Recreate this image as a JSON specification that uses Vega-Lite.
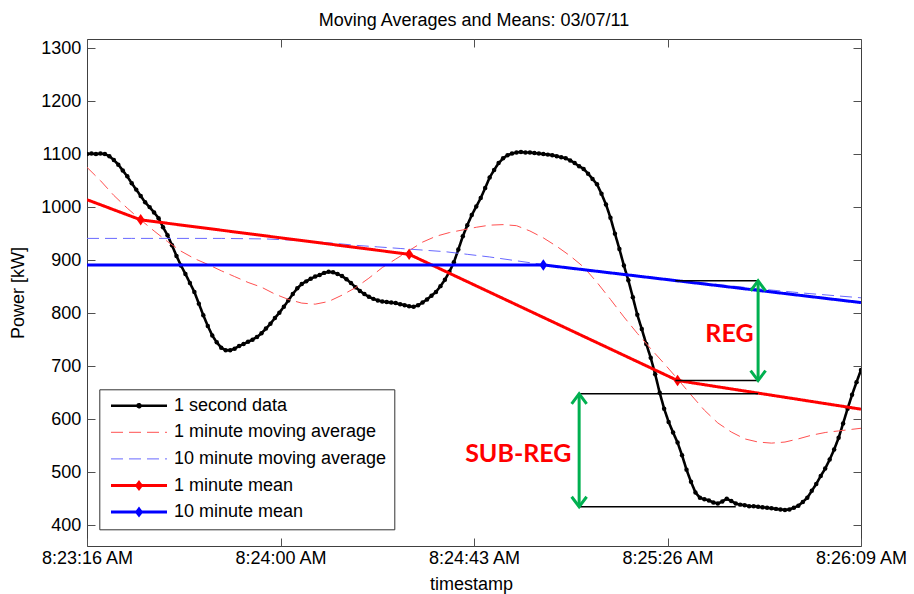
{
  "$schema": "https://vega.github.io/schema/vega-lite/v6.json",
  "width": 774,
  "height": 507,
  "autosize": {"type": "none"},
  "padding": {"left": 87, "top": 39, "right": 53, "bottom": 48},
  "background": "#ffffff",
  "title": {
    "text": "Moving Averages and Means: 03/07/11",
    "font": "Liberation Sans",
    "fontSize": 18,
    "fontWeight": "normal",
    "color": "#000000",
    "anchor": "middle",
    "frame": "group",
    "baseline": "alphabetic",
    "offset": -5
  },
  "datasets": {
    "power": [
      {"series": "1 second data", "sec": 0, "kW": 1100},
      {"series": "1 second data", "sec": 1, "kW": 1101},
      {"series": "1 second data", "sec": 2, "kW": 1100},
      {"series": "1 second data", "sec": 3, "kW": 1101},
      {"series": "1 second data", "sec": 4, "kW": 1100},
      {"series": "1 second data", "sec": 5, "kW": 1096},
      {"series": "1 second data", "sec": 6, "kW": 1089},
      {"series": "1 second data", "sec": 7, "kW": 1080},
      {"series": "1 second data", "sec": 8, "kW": 1069},
      {"series": "1 second data", "sec": 9, "kW": 1058},
      {"series": "1 second data", "sec": 10, "kW": 1045},
      {"series": "1 second data", "sec": 11, "kW": 1033},
      {"series": "1 second data", "sec": 12, "kW": 1021},
      {"series": "1 second data", "sec": 13, "kW": 1009},
      {"series": "1 second data", "sec": 14, "kW": 1000},
      {"series": "1 second data", "sec": 15, "kW": 990},
      {"series": "1 second data", "sec": 16, "kW": 979},
      {"series": "1 second data", "sec": 17, "kW": 962},
      {"series": "1 second data", "sec": 18, "kW": 947},
      {"series": "1 second data", "sec": 19, "kW": 928},
      {"series": "1 second data", "sec": 20, "kW": 908},
      {"series": "1 second data", "sec": 21, "kW": 890},
      {"series": "1 second data", "sec": 22, "kW": 874},
      {"series": "1 second data", "sec": 23, "kW": 857},
      {"series": "1 second data", "sec": 24, "kW": 840},
      {"series": "1 second data", "sec": 25, "kW": 818},
      {"series": "1 second data", "sec": 26, "kW": 796},
      {"series": "1 second data", "sec": 27, "kW": 776},
      {"series": "1 second data", "sec": 28, "kW": 758},
      {"series": "1 second data", "sec": 29, "kW": 745},
      {"series": "1 second data", "sec": 30, "kW": 735},
      {"series": "1 second data", "sec": 31, "kW": 730},
      {"series": "1 second data", "sec": 32, "kW": 730},
      {"series": "1 second data", "sec": 33, "kW": 733},
      {"series": "1 second data", "sec": 34, "kW": 738},
      {"series": "1 second data", "sec": 35, "kW": 742},
      {"series": "1 second data", "sec": 36, "kW": 746},
      {"series": "1 second data", "sec": 37, "kW": 750},
      {"series": "1 second data", "sec": 38, "kW": 755},
      {"series": "1 second data", "sec": 39, "kW": 762},
      {"series": "1 second data", "sec": 40, "kW": 771},
      {"series": "1 second data", "sec": 41, "kW": 780},
      {"series": "1 second data", "sec": 42, "kW": 791},
      {"series": "1 second data", "sec": 43, "kW": 801},
      {"series": "1 second data", "sec": 44, "kW": 812},
      {"series": "1 second data", "sec": 45, "kW": 824},
      {"series": "1 second data", "sec": 46, "kW": 836},
      {"series": "1 second data", "sec": 47, "kW": 847},
      {"series": "1 second data", "sec": 48, "kW": 855},
      {"series": "1 second data", "sec": 49, "kW": 860},
      {"series": "1 second data", "sec": 50, "kW": 865},
      {"series": "1 second data", "sec": 51, "kW": 869},
      {"series": "1 second data", "sec": 52, "kW": 872},
      {"series": "1 second data", "sec": 53, "kW": 876},
      {"series": "1 second data", "sec": 54, "kW": 878},
      {"series": "1 second data", "sec": 55, "kW": 877},
      {"series": "1 second data", "sec": 56, "kW": 874},
      {"series": "1 second data", "sec": 57, "kW": 870},
      {"series": "1 second data", "sec": 58, "kW": 864},
      {"series": "1 second data", "sec": 59, "kW": 857},
      {"series": "1 second data", "sec": 60, "kW": 849},
      {"series": "1 second data", "sec": 61, "kW": 842},
      {"series": "1 second data", "sec": 62, "kW": 836},
      {"series": "1 second data", "sec": 63, "kW": 831},
      {"series": "1 second data", "sec": 64, "kW": 827},
      {"series": "1 second data", "sec": 65, "kW": 824},
      {"series": "1 second data", "sec": 66, "kW": 822},
      {"series": "1 second data", "sec": 67, "kW": 821},
      {"series": "1 second data", "sec": 68, "kW": 820},
      {"series": "1 second data", "sec": 69, "kW": 819},
      {"series": "1 second data", "sec": 70, "kW": 817},
      {"series": "1 second data", "sec": 71, "kW": 815},
      {"series": "1 second data", "sec": 72, "kW": 813},
      {"series": "1 second data", "sec": 73, "kW": 812},
      {"series": "1 second data", "sec": 74, "kW": 815},
      {"series": "1 second data", "sec": 75, "kW": 820},
      {"series": "1 second data", "sec": 76, "kW": 826},
      {"series": "1 second data", "sec": 77, "kW": 833},
      {"series": "1 second data", "sec": 78, "kW": 840},
      {"series": "1 second data", "sec": 79, "kW": 851},
      {"series": "1 second data", "sec": 80, "kW": 863},
      {"series": "1 second data", "sec": 81, "kW": 878},
      {"series": "1 second data", "sec": 82, "kW": 896},
      {"series": "1 second data", "sec": 83, "kW": 920},
      {"series": "1 second data", "sec": 84, "kW": 945},
      {"series": "1 second data", "sec": 85, "kW": 966},
      {"series": "1 second data", "sec": 86, "kW": 985},
      {"series": "1 second data", "sec": 87, "kW": 1001},
      {"series": "1 second data", "sec": 88, "kW": 1017},
      {"series": "1 second data", "sec": 89, "kW": 1036},
      {"series": "1 second data", "sec": 90, "kW": 1056},
      {"series": "1 second data", "sec": 91, "kW": 1070},
      {"series": "1 second data", "sec": 92, "kW": 1083},
      {"series": "1 second data", "sec": 93, "kW": 1092},
      {"series": "1 second data", "sec": 94, "kW": 1098},
      {"series": "1 second data", "sec": 95, "kW": 1101},
      {"series": "1 second data", "sec": 96, "kW": 1103},
      {"series": "1 second data", "sec": 97, "kW": 1104},
      {"series": "1 second data", "sec": 98, "kW": 1103},
      {"series": "1 second data", "sec": 99, "kW": 1103},
      {"series": "1 second data", "sec": 100, "kW": 1102},
      {"series": "1 second data", "sec": 101, "kW": 1101},
      {"series": "1 second data", "sec": 102, "kW": 1100},
      {"series": "1 second data", "sec": 103, "kW": 1099},
      {"series": "1 second data", "sec": 104, "kW": 1098},
      {"series": "1 second data", "sec": 105, "kW": 1096},
      {"series": "1 second data", "sec": 106, "kW": 1094},
      {"series": "1 second data", "sec": 107, "kW": 1092},
      {"series": "1 second data", "sec": 108, "kW": 1088},
      {"series": "1 second data", "sec": 109, "kW": 1083},
      {"series": "1 second data", "sec": 110, "kW": 1077},
      {"series": "1 second data", "sec": 111, "kW": 1072},
      {"series": "1 second data", "sec": 112, "kW": 1063},
      {"series": "1 second data", "sec": 113, "kW": 1053},
      {"series": "1 second data", "sec": 114, "kW": 1043},
      {"series": "1 second data", "sec": 115, "kW": 1025},
      {"series": "1 second data", "sec": 116, "kW": 1005},
      {"series": "1 second data", "sec": 117, "kW": 980},
      {"series": "1 second data", "sec": 118, "kW": 950},
      {"series": "1 second data", "sec": 119, "kW": 921},
      {"series": "1 second data", "sec": 120, "kW": 890},
      {"series": "1 second data", "sec": 121, "kW": 862},
      {"series": "1 second data", "sec": 122, "kW": 830},
      {"series": "1 second data", "sec": 123, "kW": 797},
      {"series": "1 second data", "sec": 124, "kW": 770},
      {"series": "1 second data", "sec": 125, "kW": 742},
      {"series": "1 second data", "sec": 126, "kW": 716},
      {"series": "1 second data", "sec": 127, "kW": 685},
      {"series": "1 second data", "sec": 128, "kW": 650},
      {"series": "1 second data", "sec": 129, "kW": 620},
      {"series": "1 second data", "sec": 130, "kW": 595},
      {"series": "1 second data", "sec": 131, "kW": 575},
      {"series": "1 second data", "sec": 132, "kW": 556},
      {"series": "1 second data", "sec": 133, "kW": 532},
      {"series": "1 second data", "sec": 134, "kW": 505},
      {"series": "1 second data", "sec": 135, "kW": 482},
      {"series": "1 second data", "sec": 136, "kW": 462},
      {"series": "1 second data", "sec": 137, "kW": 452},
      {"series": "1 second data", "sec": 138, "kW": 449},
      {"series": "1 second data", "sec": 139, "kW": 447},
      {"series": "1 second data", "sec": 140, "kW": 443},
      {"series": "1 second data", "sec": 141, "kW": 441},
      {"series": "1 second data", "sec": 142, "kW": 445},
      {"series": "1 second data", "sec": 143, "kW": 450},
      {"series": "1 second data", "sec": 144, "kW": 446},
      {"series": "1 second data", "sec": 145, "kW": 441},
      {"series": "1 second data", "sec": 146, "kW": 439},
      {"series": "1 second data", "sec": 147, "kW": 438},
      {"series": "1 second data", "sec": 148, "kW": 436},
      {"series": "1 second data", "sec": 149, "kW": 436},
      {"series": "1 second data", "sec": 150, "kW": 435},
      {"series": "1 second data", "sec": 151, "kW": 434},
      {"series": "1 second data", "sec": 152, "kW": 433},
      {"series": "1 second data", "sec": 153, "kW": 432},
      {"series": "1 second data", "sec": 154, "kW": 431},
      {"series": "1 second data", "sec": 155, "kW": 430},
      {"series": "1 second data", "sec": 156, "kW": 429},
      {"series": "1 second data", "sec": 157, "kW": 430},
      {"series": "1 second data", "sec": 158, "kW": 433},
      {"series": "1 second data", "sec": 159, "kW": 437},
      {"series": "1 second data", "sec": 160, "kW": 444},
      {"series": "1 second data", "sec": 161, "kW": 452},
      {"series": "1 second data", "sec": 162, "kW": 465},
      {"series": "1 second data", "sec": 163, "kW": 478},
      {"series": "1 second data", "sec": 164, "kW": 493},
      {"series": "1 second data", "sec": 165, "kW": 507},
      {"series": "1 second data", "sec": 166, "kW": 524},
      {"series": "1 second data", "sec": 167, "kW": 543},
      {"series": "1 second data", "sec": 168, "kW": 565},
      {"series": "1 second data", "sec": 169, "kW": 592},
      {"series": "1 second data", "sec": 170, "kW": 620},
      {"series": "1 second data", "sec": 171, "kW": 646},
      {"series": "1 second data", "sec": 172, "kW": 670},
      {"series": "1 second data", "sec": 173, "kW": 693},

      {"series": "1 minute moving average", "sec": 0, "kW": 1075},
      {"series": "1 minute moving average", "sec": 3, "kW": 1050},
      {"series": "1 minute moving average", "sec": 6, "kW": 1022},
      {"series": "1 minute moving average", "sec": 9, "kW": 998},
      {"series": "1 minute moving average", "sec": 12, "kW": 976},
      {"series": "1 minute moving average", "sec": 15, "kW": 955},
      {"series": "1 minute moving average", "sec": 18, "kW": 935},
      {"series": "1 minute moving average", "sec": 21, "kW": 917},
      {"series": "1 minute moving average", "sec": 24, "kW": 903},
      {"series": "1 minute moving average", "sec": 27, "kW": 892},
      {"series": "1 minute moving average", "sec": 30, "kW": 880},
      {"series": "1 minute moving average", "sec": 33, "kW": 869},
      {"series": "1 minute moving average", "sec": 36, "kW": 858},
      {"series": "1 minute moving average", "sec": 39, "kW": 849},
      {"series": "1 minute moving average", "sec": 42, "kW": 836},
      {"series": "1 minute moving average", "sec": 45, "kW": 826},
      {"series": "1 minute moving average", "sec": 48, "kW": 819},
      {"series": "1 minute moving average", "sec": 51, "kW": 817},
      {"series": "1 minute moving average", "sec": 54, "kW": 822},
      {"series": "1 minute moving average", "sec": 57, "kW": 834},
      {"series": "1 minute moving average", "sec": 60, "kW": 848},
      {"series": "1 minute moving average", "sec": 63, "kW": 866},
      {"series": "1 minute moving average", "sec": 66, "kW": 886},
      {"series": "1 minute moving average", "sec": 69, "kW": 902},
      {"series": "1 minute moving average", "sec": 72, "kW": 918},
      {"series": "1 minute moving average", "sec": 75, "kW": 934},
      {"series": "1 minute moving average", "sec": 78, "kW": 945},
      {"series": "1 minute moving average", "sec": 81, "kW": 952},
      {"series": "1 minute moving average", "sec": 84, "kW": 957},
      {"series": "1 minute moving average", "sec": 87, "kW": 962},
      {"series": "1 minute moving average", "sec": 90, "kW": 966},
      {"series": "1 minute moving average", "sec": 93, "kW": 967},
      {"series": "1 minute moving average", "sec": 96, "kW": 965},
      {"series": "1 minute moving average", "sec": 99, "kW": 955},
      {"series": "1 minute moving average", "sec": 102, "kW": 942},
      {"series": "1 minute moving average", "sec": 105, "kW": 926},
      {"series": "1 minute moving average", "sec": 108, "kW": 908},
      {"series": "1 minute moving average", "sec": 111, "kW": 887},
      {"series": "1 minute moving average", "sec": 114, "kW": 858},
      {"series": "1 minute moving average", "sec": 117, "kW": 826},
      {"series": "1 minute moving average", "sec": 120, "kW": 793},
      {"series": "1 minute moving average", "sec": 123, "kW": 762},
      {"series": "1 minute moving average", "sec": 126, "kW": 733},
      {"series": "1 minute moving average", "sec": 129, "kW": 705},
      {"series": "1 minute moving average", "sec": 132, "kW": 676},
      {"series": "1 minute moving average", "sec": 135, "kW": 646},
      {"series": "1 minute moving average", "sec": 138, "kW": 617},
      {"series": "1 minute moving average", "sec": 141, "kW": 593},
      {"series": "1 minute moving average", "sec": 144, "kW": 576},
      {"series": "1 minute moving average", "sec": 147, "kW": 563},
      {"series": "1 minute moving average", "sec": 150, "kW": 557},
      {"series": "1 minute moving average", "sec": 153, "kW": 555},
      {"series": "1 minute moving average", "sec": 156, "kW": 557},
      {"series": "1 minute moving average", "sec": 159, "kW": 563},
      {"series": "1 minute moving average", "sec": 162, "kW": 570},
      {"series": "1 minute moving average", "sec": 165, "kW": 575},
      {"series": "1 minute moving average", "sec": 168, "kW": 578},
      {"series": "1 minute moving average", "sec": 171, "kW": 581},
      {"series": "1 minute moving average", "sec": 173, "kW": 583},

      {"series": "10 minute moving average", "sec": 0, "kW": 941},
      {"series": "10 minute moving average", "sec": 10, "kW": 941},
      {"series": "10 minute moving average", "sec": 20, "kW": 941},
      {"series": "10 minute moving average", "sec": 30, "kW": 941},
      {"series": "10 minute moving average", "sec": 40, "kW": 940},
      {"series": "10 minute moving average", "sec": 45, "kW": 938},
      {"series": "10 minute moving average", "sec": 50, "kW": 935},
      {"series": "10 minute moving average", "sec": 55, "kW": 932},
      {"series": "10 minute moving average", "sec": 60, "kW": 928},
      {"series": "10 minute moving average", "sec": 65, "kW": 925},
      {"series": "10 minute moving average", "sec": 70, "kW": 922},
      {"series": "10 minute moving average", "sec": 75, "kW": 919},
      {"series": "10 minute moving average", "sec": 80, "kW": 916},
      {"series": "10 minute moving average", "sec": 85, "kW": 911},
      {"series": "10 minute moving average", "sec": 90, "kW": 906},
      {"series": "10 minute moving average", "sec": 95, "kW": 900},
      {"series": "10 minute moving average", "sec": 100, "kW": 894},
      {"series": "10 minute moving average", "sec": 105, "kW": 889},
      {"series": "10 minute moving average", "sec": 110, "kW": 884},
      {"series": "10 minute moving average", "sec": 120, "kW": 874},
      {"series": "10 minute moving average", "sec": 130, "kW": 864},
      {"series": "10 minute moving average", "sec": 140, "kW": 855},
      {"series": "10 minute moving average", "sec": 150, "kW": 846},
      {"series": "10 minute moving average", "sec": 160, "kW": 838},
      {"series": "10 minute moving average", "sec": 173, "kW": 829},

      {"series": "1 minute mean", "sec": 0, "kW": 1014},
      {"series": "1 minute mean", "sec": 12, "kW": 976},
      {"series": "1 minute mean", "sec": 72, "kW": 911},
      {"series": "1 minute mean", "sec": 132, "kW": 673},
      {"series": "1 minute mean", "sec": 173, "kW": 619},

      {"series": "10 minute mean", "sec": 0, "kW": 891},
      {"series": "10 minute mean", "sec": 102, "kW": 891},
      {"series": "10 minute mean", "sec": 173, "kW": 820}
    ],
    "brackets": [
      {"sec": 131.5, "sec2": 150, "kW": 861},
      {"sec": 131.5, "sec2": 150, "kW": 673},
      {"sec": 110, "sec2": 150, "kW": 648},
      {"sec": 110, "sec2": 145, "kW": 435}
    ],
    "arrows": [
      {"sec": 150, "kW": 673, "kW2": 861},
      {"sec": 110, "kW": 435, "kW2": 648}
    ],
    "tips": [
      {"sec": 150, "kW": 861, "dir": "up"},
      {"sec": 150, "kW": 673, "dir": "down"},
      {"sec": 110, "kW": 648, "dir": "up"},
      {"sec": 110, "kW": 435, "dir": "down"}
    ],
    "notes": [
      {"note": "REG", "sec": 143.6, "kW": 761},
      {"note": "SUB-REG", "sec": 96.4, "kW": 534}
    ]
  },
  "layer": [
    {
      "data": {"name": "power"},
      "encoding": {
        "x": {
          "field": "sec",
          "type": "quantitative",
          "scale": {"domain": [0, 173], "nice": false, "zero": false},
          "axis": {
            "orient": "bottom",
            "values": [0, 43.25, 86.5, 129.75, 173],
            "labelExpr": "datum.value == 0 ? '8:23:16 AM' : datum.value == 43.25 ? '8:24:00 AM' : datum.value == 86.5 ? '8:24:43 AM' : datum.value == 129.75 ? '8:25:26 AM' : '8:26:09 AM'",
            "labelPadding": 11.6,
            "title": "timestamp",
            "titleX": 384,
            "titleY": 43.5,
            "titleAlign": "center",
            "titleBaseline": "alphabetic"
          }
        },
        "y": {
          "field": "kW",
          "type": "quantitative",
          "scale": {"domain": [361, 1317], "nice": false, "zero": false},
          "axis": {
            "orient": "left",
            "values": [400, 500, 600, 700, 800, 900, 1000, 1100, 1200, 1300],
            "format": "d",
            "labelPadding": 14.3,
            "title": "Power [kW]",
            "titleX": -64,
            "titleY": 253.5,
            "titleAngle": -90,
            "titleAlign": "center",
            "titleBaseline": "alphabetic"
          }
        },
        "color": {
          "field": "series",
          "type": "nominal",
          "scale": {
            "domain": ["1 second data", "1 minute moving average", "10 minute moving average", "1 minute mean", "10 minute mean"],
            "range": ["#000000", "#ff5050", "#6868ff", "#ff0000", "#0000ff"]
          },
          "legend": {
            "title": null,
            "orient": "none",
            "legendX": 12.3,
            "legendY": 350.3,
            "padding": 7.4,
            "rowPadding": 8.6,
            "strokeColor": "#333333",
            "fillColor": "#ffffff",
            "labelFont": "Liberation Sans",
            "labelFontSize": 18,
            "labelColor": "#000000",
            "labelLimit": 0,
            "symbolSize": 100,
            "symbolOffset": 23.3,
            "labelOffset": 26,
            "symbolType": {"expr": "datum.label == '1 second data' ? 'M-5.6,0H5.6M-0.3,0A0.3,0.3,0,1,0,0.3,0A0.3,0.3,0,1,0,-0.3,0Z' : indexof(datum.label, 'mean') >= 0 ? 'M-5.6,0H5.6M0,-0.6L0.45,0L0,0.6L-0.45,0Z' : 'M-5.6,0H5.6'"}
          }
        },
        "strokeDash": {
          "field": "series",
          "type": "nominal",
          "scale": {
            "domain": ["1 second data", "1 minute moving average", "10 minute moving average", "1 minute mean", "10 minute mean"],
            "range": [[1, 0], [12, 6], [12, 6], [1, 0], [1, 0]]
          },
          "legend": {"title": null}
        },
        "strokeWidth": {
          "field": "series",
          "type": "nominal",
          "scale": {
            "type": "ordinal",
            "domain": ["1 second data", "1 minute moving average", "10 minute moving average", "1 minute mean", "10 minute mean"],
            "range": [2.6, 1, 1, 3, 3]
          },
          "legend": {"title": null}
        }
      },
      "layer": [
        {
          "transform": [{"filter": {"field": "series", "equal": "1 second data"}}],
          "mark": {"type": "line", "clip": true}
        },
        {
          "transform": [{"filter": {"field": "series", "equal": "1 second data"}}],
          "mark": {"type": "point", "filled": true, "size": 20, "opacity": 1, "clip": true}
        },
        {
          "transform": [{"filter": {"field": "series", "equal": "1 minute moving average"}}],
          "mark": {"type": "line", "clip": true}
        },
        {
          "transform": [{"filter": {"field": "series", "equal": "10 minute moving average"}}],
          "mark": {"type": "line", "clip": true}
        },
        {
          "transform": [{"filter": {"field": "series", "equal": "1 minute mean"}}],
          "mark": {"type": "line", "clip": true}
        },
        {
          "transform": [{"filter": {"field": "series", "equal": "10 minute mean"}}],
          "mark": {"type": "line", "clip": true}
        },
        {
          "transform": [
            {"filter": {"and": [
              {"field": "series", "oneOf": ["1 minute mean", "10 minute mean"]},
              {"field": "sec", "oneOf": [12, 72, 102, 132]}
            ]}}
          ],
          "mark": {"type": "point", "filled": true, "opacity": 1, "size": 85, "shape": "M0,-1.25L0.85,0L0,1.25L-0.85,0Z", "clip": true}
        }
      ]
    },
    {
      "encoding": {
        "x": {
          "field": "sec",
          "type": "quantitative",
          "axis": {"orient": "top", "values": [0, 43.25, 86.5, 129.75, 173], "labels": false, "title": null}
        },
        "y": {
          "field": "kW",
          "type": "quantitative",
          "axis": {"orient": "right", "values": [400, 500, 600, 700, 800, 900, 1000, 1100, 1200, 1300], "labels": false, "title": null}
        }
      },
      "layer": [
        {
          "data": {"name": "brackets"},
          "mark": {"type": "rule", "color": "#000000", "strokeWidth": 1.5},
          "encoding": {"x2": {"field": "sec2"}}
        },
        {
          "data": {"name": "arrows"},
          "mark": {"type": "rule", "color": "#00b050", "strokeWidth": 3},
          "encoding": {"y2": {"field": "kW2"}}
        },
        {
          "data": {"name": "tips"},
          "mark": {"type": "point", "filled": false, "opacity": 1, "size": 400, "stroke": "#00b050", "strokeWidth": 3},
          "encoding": {
            "shape": {
              "field": "dir",
              "type": "nominal",
              "scale": {"domain": ["up", "down"], "range": ["M-0.75,1L0,0L0.75,1", "M-0.75,-1L0,0L0.75,-1"]},
              "legend": null
            }
          }
        },
        {
          "data": {"name": "notes"},
          "mark": {"type": "text", "font": "Lato", "fontWeight": "bold", "fontSize": 25, "color": "#ff0000", "align": "center", "baseline": "middle"},
          "encoding": {"text": {"field": "note"}}
        }
      ]
    }
  ],
  "resolve": {"axis": {"x": "independent", "y": "independent"}},
  "config": {
    "view": {"stroke": "#404040", "strokeWidth": 1},
    "axis": {
      "grid": false,
      "domain": false,
      "tickSize": -8,
      "tickColor": "#505050",
      "tickWidth": 1,
      "labelFont": "Liberation Sans",
      "labelFontSize": 18,
      "labelColor": "#000000",
      "labelFlush": false,
      "labelOverlap": false,
      "titleFont": "Liberation Sans",
      "titleFontSize": 18,
      "titleFontWeight": "normal",
      "titleColor": "#000000"
    }
  }
}
